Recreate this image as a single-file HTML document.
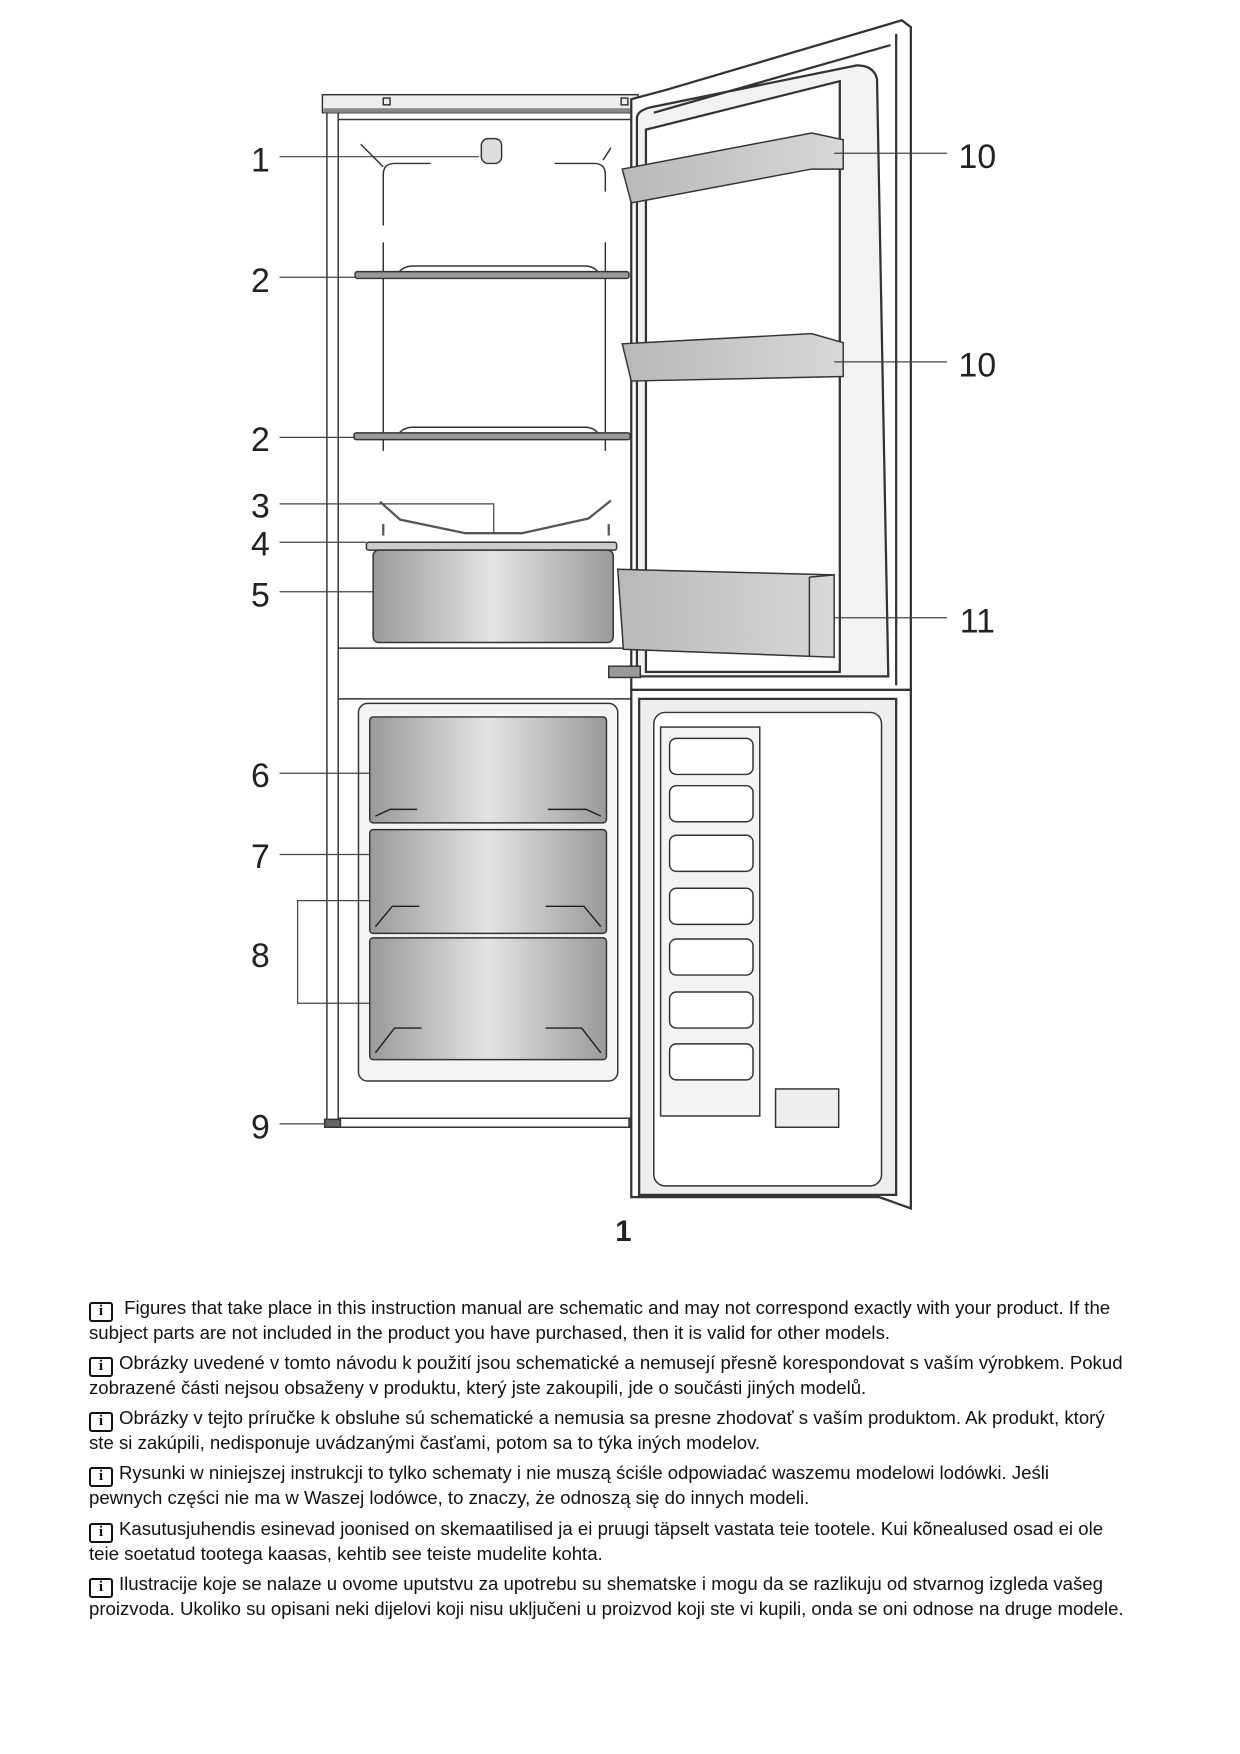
<!DOCTYPE html>
<html><head><meta charset="utf-8"><style>
html,body{margin:0;padding:0;background:#fff}
body{width:1240px;height:1754px;position:relative;overflow:hidden;font-family:"Liberation Sans",sans-serif}
svg{position:absolute;left:0;top:0}
.p{position:absolute;left:89px;width:1140px;white-space:nowrap;font-size:18.6px;line-height:22px;color:#111}
.i{display:inline-block;width:24px;height:20px;border:2.5px solid #111;border-radius:3px;box-sizing:border-box;text-align:center;font:bold 15px/15px "Liberation Serif",serif;vertical-align:-1px;margin-right:6px}
</style></head><body>
<svg width="1240" height="1754" viewBox="0 0 1100 1556" preserveAspectRatio="none">
<defs>
<linearGradient id="g" x1="0" x2="1" y1="0" y2="0"><stop offset="0" stop-color="#9a9a9a"/><stop offset=".5" stop-color="#e4e4e4"/><stop offset="1" stop-color="#9a9a9a"/></linearGradient>
<linearGradient id="d" x1="0" x2="1"><stop offset="0" stop-color="#b8b8b8"/><stop offset="1" stop-color="#d8d8d8"/></linearGradient>
</defs>
<g fill="none" stroke="#333" stroke-width="1.3">
<rect x="286" y="84" width="280" height="16" fill="#eee"/>
<rect x="287" y="96" width="278" height="4" fill="#888" stroke="none"/>
<rect x="340" y="87" width="6" height="6"/><rect x="551" y="87" width="6" height="6"/>
<path d="M290 100 V1000 H572 M300 100 V992 H562"/>
<line x1="300" y1="106" x2="562" y2="106"/>
<line x1="300" y1="575" x2="562" y2="575"/>
<line x1="300" y1="620" x2="562" y2="620"/>
<rect x="288" y="993" width="14" height="7" fill="#666"/><rect x="558" y="993" width="14" height="7" fill="#666"/>
<path d="M320 128 L340 148 M340 155 Q340 145 350 145 H382 M492 145 H527 Q537 145 537 155 V170 M542 131 L535 142 M340 155 V200 M340 215 V400 M537 215 V400"/>
<rect x="427" y="123" width="18" height="22" rx="6" fill="#ddd"/>
<path d="M352 245 Q355 237 365 236 H520 Q530 237 532 245"/>
<rect x="315" y="241" width="243" height="6" rx="2" fill="#999"/>
<path d="M352 388 Q355 380 365 379 H520 Q530 380 532 388"/>
<rect x="314" y="384" width="245" height="6" rx="2" fill="#999"/>
<path d="M337 445 L355 461 L413 473 H463 L522 460 L542 444 M340 465 V475 M540 465 V475" stroke-width="2" stroke="#555"/>
<rect x="325" y="481" width="222" height="7" rx="2" fill="#ccc"/>
<rect x="331" y="488" width="213" height="82" rx="5" fill="url(#g)"/>
<rect x="318" y="624" width="230" height="335" rx="8" fill="#f4f4f4"/>
<rect x="328" y="636" width="210" height="94" rx="3" fill="url(#g)"/>
<rect x="328" y="736" width="210" height="92" rx="3" fill="url(#g)"/>
<rect x="328" y="832" width="210" height="108" rx="3" fill="url(#g)"/>
<g stroke="#222"><path d="M333 724 L346 718 H370 M533 724 L520 718 H486 M333 822 L348 804 H372 M533 822 L518 804 H484 M333 934 L350 912 H374 M533 934 L516 912 H484"/></g>
<g stroke-width="2">
<path d="M560 88 L590 80 L800 18 L808 24 V612 H560 Z" fill="#fff"/>
<path d="M795 30 V608 M790 40 L580 100 M565 105 Q565 98 578 95 L760 58 Q775 58 778 70 L788 600 H565 Z" fill="#f2f2f2"/>
<path d="M573 115 L745 72 V596 H573 Z" fill="#fff"/>
</g>
<path d="M552 150 L720 118 L748 124 V150 L720 150 L560 180 Z" fill="url(#d)"/>
<path d="M552 305 L720 296 L748 304 V334 L560 338 Z" fill="url(#d)"/>
<path d="M548 505 L740 510 V583 L553 576 Z" fill="url(#d)"/>
<line x1="740" y1="510" x2="718" y2="512"/><line x1="718" y1="512" x2="718" y2="582"/>
<rect x="540" y="591" width="28" height="10" fill="#999"/>
<g stroke-width="2">
<path d="M560 612 H808 V1072 L780 1062 H560 Z" fill="#fff"/>
<path d="M567 620 H795 V1060 H567 Z" fill="#eee"/>
</g>
<rect x="580" y="632" width="202" height="420" rx="10" fill="#fff"/>
<rect x="586" y="645" width="88" height="345" fill="#f3f3f3"/>
<g fill="#fff"><rect x="594" y="655" width="74" height="32" rx="6"/><rect x="594" y="697" width="74" height="32" rx="6"/><rect x="594" y="741" width="74" height="32" rx="6"/><rect x="594" y="788" width="74" height="32" rx="6"/><rect x="594" y="833" width="74" height="32" rx="6"/><rect x="594" y="880" width="74" height="32" rx="6"/><rect x="594" y="926" width="74" height="32" rx="6"/></g>
<rect x="688" y="966" width="56" height="34" fill="#eee"/>
<g stroke="#444" stroke-width="1.1">
<line x1="248" y1="139" x2="425" y2="139"/>
<line x1="248" y1="246" x2="316" y2="246"/>
<line x1="248" y1="388" x2="315" y2="388"/>
<path d="M248 447 H438 V473"/>
<line x1="248" y1="481" x2="325" y2="481"/>
<line x1="248" y1="525" x2="331" y2="525"/>
<line x1="248" y1="686" x2="328" y2="686"/>
<line x1="248" y1="758" x2="328" y2="758"/>
<path d="M328 799 H264 V890 H328"/>
<line x1="248" y1="997" x2="290" y2="997"/>
<line x1="740" y1="136" x2="840" y2="136"/>
<line x1="740" y1="321" x2="840" y2="321"/>
<line x1="740" y1="548" x2="840" y2="548"/>
</g>
</g>
<g font-family="Liberation Sans" font-size="30" fill="#222" text-anchor="middle">
<text x="231" y="152">1</text><text x="231" y="259">2</text><text x="231" y="400">2</text><text x="231" y="459">3</text><text x="231" y="493">4</text><text x="231" y="538">5</text><text x="231" y="698">6</text><text x="231" y="770">7</text><text x="231" y="858">8</text><text x="231" y="1010">9</text>
<text x="867" y="149">10</text><text x="867" y="334">10</text><text x="867" y="561">11</text>
<text x="553" y="1101" font-weight="bold" font-size="26">1</text>
</g>
</svg>
<div class="p" style="top:1297px"><span class="i">i</span> Figures that take place in this instruction manual are schematic and may not correspond exactly with your product. If the<br>subject parts are not included in the product you have purchased, then it is valid for other models.</div>
<div class="p" style="top:1352px"><span class="i">i</span>Obrázky uvedené v tomto návodu k použití jsou schematické a nemusejí přesně korespondovat s vaším výrobkem. Pokud<br>zobrazené části nejsou obsaženy v produktu, který jste zakoupili, jde o součásti jiných modelů.</div>
<div class="p" style="top:1407px"><span class="i">i</span>Obrázky v tejto príručke k obsluhe sú schematické a nemusia sa presne zhodovať s vaším produktom. Ak produkt, ktorý<br>ste si zakúpili, nedisponuje uvádzanými časťami, potom sa to týka iných modelov.</div>
<div class="p" style="top:1462px"><span class="i">i</span>Rysunki w niniejszej instrukcji to tylko schematy i nie muszą ściśle odpowiadać waszemu modelowi lodówki. Jeśli<br>pewnych części nie ma w Waszej lodówce, to znaczy, że odnoszą się do innych modeli.</div>
<div class="p" style="top:1518px"><span class="i">i</span>Kasutusjuhendis esinevad joonised on skemaatilised ja ei pruugi täpselt vastata teie tootele. Kui kõnealused osad ei ole<br>teie soetatud tootega kaasas, kehtib see teiste mudelite kohta.</div>
<div class="p" style="top:1573px"><span class="i">i</span>Ilustracije koje se nalaze u ovome uputstvu za upotrebu su shematske i mogu da se razlikuju od stvarnog izgleda vašeg<br>proizvoda. Ukoliko su opisani neki dijelovi koji nisu uključeni u proizvod koji ste vi kupili, onda se oni odnose na druge modele.</div>
</body></html>
